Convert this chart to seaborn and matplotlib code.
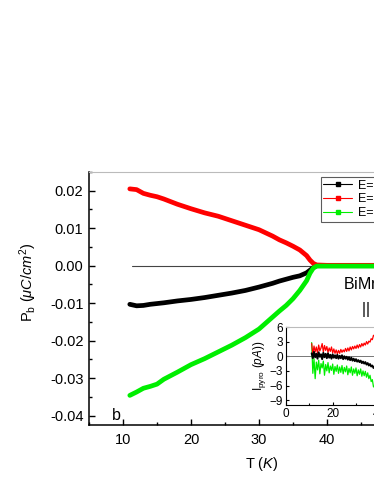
import matplotlib
matplotlib.use("Agg")
import matplotlib.pyplot as plt
from matplotlib.ticker import MultipleLocator
import seaborn as sns
import pandas as pd

# main panel: P_b vs T for three poling fields
T_main = [11, 12, 13, 14, 15, 16, 18, 20, 22, 24, 26, 28, 30, 32, 33, 34, 35, 36,
          37, 37.5, 38, 38.5, 40, 42, 44, 46, 48, 50]
P_zero = [-0.0103, -0.0107, -0.0106, -0.0103, -0.0101, -0.0099, -0.0094, -0.0090,
          -0.0085, -0.0079, -0.0073, -0.0066, -0.0057, -0.0047, -0.0041, -0.0036,
          -0.0031, -0.0027, -0.0019, -0.0012, -0.0005, 0.0, 0.0, 0.0, 0.0, 0.0, 0.0, 0.0]
P_plus = [0.0205, 0.0203, 0.0193, 0.0188, 0.0184, 0.0178, 0.0164, 0.0152, 0.0141,
          0.0132, 0.0120, 0.0108, 0.0096, 0.0079, 0.0069, 0.0061, 0.0052, 0.0042,
          0.0027, 0.0015, 0.0006, 0.0002, 0.0001, 0.0001, 0.0001, 0.0001, 0.0001, 0.0001]
P_minus = [-0.0346, -0.0337, -0.0327, -0.0322, -0.0316, -0.0303, -0.0284, -0.0264,
           -0.0248, -0.0230, -0.0212, -0.0192, -0.0169, -0.0137, -0.0121, -0.0106,
           -0.0088, -0.0066, -0.0040, -0.0020, -0.0006, -0.0001, -0.0001, -0.0001,
           -0.0001, -0.0001, -0.0001, -0.0001]
labels = ["E=0 kV/cm", "E=+2 kV/cm", "E=-2 kV/cm"]
colors = ["black", "red", "#00ee00"]

# inset: pyroelectric current
T_ins = [11, 11.5, 12, 12.5, 13, 13.5, 14, 14.5, 15, 15.5, 16, 16.5, 17, 17.5, 18,
         18.5, 19, 19.5, 20, 20.5, 21, 21.5, 22, 22.5, 23, 23.5, 24, 24.5, 25, 25.5,
         26, 26.5, 27, 27.5, 28, 28.5, 29, 29.5, 30, 30.5, 31, 31.5, 32, 32.5, 33,
         33.5, 34, 34.5, 35, 35.5, 36, 36.5, 37, 37.5, 38, 38.5, 39, 39.5, 40]
I_zero = [0.6, -0.4, 0.9, -0.2, 0.5, -0.5, 0.8, -0.1, 0.4, -0.6, 0.7, -0.2, 0.5, -0.4,
          0.6, -0.3, 0.3, -0.5, 0.4, -0.3, 0.2, -0.4, 0.3, -0.5, 0.1, -0.4, 0.2, -0.6,
          0.0, -0.5, -0.1, -0.7, -0.2, -0.8, -0.3, -0.9, -0.5, -1.0, -0.6, -1.1, -0.8,
          -1.2, -0.9, -1.4, -1.1, -1.5, -1.2, -1.7, -1.4, -1.9, -1.6, -2.1, -1.9, -2.4,
          -2.3, -2.8, -2.7, -3.2, -3.1]
I_plus = [2.6, 0.4, 2.1, 0.9, 1.9, 0.6, 2.3, 1.1, 1.7, 2.6, 0.9, 2.2, 1.2, 2.0, 0.8,
          1.7, 1.0, 1.9, 0.7, 1.5, 0.6, 1.3, 0.5, 1.2, 0.6, 1.4, 0.8, 1.3, 0.9, 1.6,
          1.0, 1.7, 1.1, 1.9, 1.3, 2.0, 1.5, 2.1, 1.6, 2.3, 1.7, 2.4, 1.9, 2.6, 2.1,
          2.7, 2.3, 3.0, 2.5, 3.1, 2.9, 3.6, 3.4, 4.3, 4.1, 5.0, 4.8, 5.6, 5.4]
I_minus = [2.8, -3.5, -0.5, -4.6, -1.2, -2.8, -0.8, -3.6, -1.5, -2.4, -1.0, -3.9, -1.7,
           -3.0, -1.3, -3.4, -2.0, -2.9, -1.6, -3.7, -2.1, -3.1, -1.8, -3.5, -2.2, -3.3,
           -1.9, -3.6, -2.3, -3.2, -2.0, -3.8, -2.5, -3.4, -2.2, -3.9, -2.6, -3.5, -2.4,
           -4.0, -2.8, -3.7, -2.6, -4.1, -3.0, -4.0, -3.1, -4.3, -3.4, -4.6, -3.9, -5.2,
           -4.8, -6.3, -6.0, -7.4, -7.2, -8.3, -8.0]

sns.set_style("ticks")
plt.rcParams["font.family"] = ["Liberation Sans", "DejaVu Sans"]
plt.rcParams["mathtext.fontset"] = "custom"
plt.rcParams["mathtext.rm"] = "Liberation Sans"
plt.rcParams["mathtext.it"] = "Liberation Sans:italic"
plt.rcParams["xtick.direction"] = "in"
plt.rcParams["ytick.direction"] = "in"
for key in ["text.color", "axes.labelcolor", "xtick.color", "ytick.color", "axes.edgecolor"]:
    plt.rcParams[key] = "black"

pal = dict(zip(labels, colors))

df = pd.DataFrame({
    "T": T_main * 3,
    "P": P_zero + P_plus + P_minus,
    "E": [labels[0]] * len(T_main) + [labels[1]] * len(T_main) + [labels[2]] * len(T_main),
})
dfi = pd.DataFrame({
    "T": T_ins * 3,
    "I": I_zero + I_plus + I_minus,
    "E": [labels[0]] * len(T_ins) + [labels[1]] * len(T_ins) + [labels[2]] * len(T_ins),
})

fig = plt.figure(figsize=(3.74, 4.84), dpi=100)
ax = fig.add_axes([89 / 374, 59 / 484, 374 / 374, 253 / 484])

ax.axhline(0, xmin=(11.3 - 5) / 55, xmax=1, color="#444444", lw=0.8, zorder=1)
sns.lineplot(data=df, x="T", y="P", hue="E", palette=pal, hue_order=labels,
             lw=3.4, ax=ax, legend=False, zorder=3)
ax.set_xlim(5, 60)
ax.set_ylim(-0.0425, 0.025)
ax.xaxis.set_major_locator(MultipleLocator(10))
ax.xaxis.set_minor_locator(MultipleLocator(5))
ax.yaxis.set_major_locator(MultipleLocator(0.01))
ax.yaxis.set_minor_locator(MultipleLocator(0.005))
ax.yaxis.set_major_formatter(matplotlib.ticker.FormatStrFormatter("%.2f"))
ax.tick_params(which="major", length=4, width=1, labelsize=10.5, pad=4)
ax.tick_params(axis="x", which="major", pad=6)
ax.tick_params(which="minor", length=2.5, width=1)
ax.set_xlabel("")
ax.set_ylabel("")
ax.spines["top"].set_color("#bbbbbb")
ax.spines["left"].set_linewidth(1.1)
ax.spines["bottom"].set_linewidth(1.1)

# legend handles
handles = [plt.Line2D([], [], color=c, lw=0.8, marker="s", markersize=3) for c in colors]
leg = ax.legend(handles, labels, loc="upper left", bbox_to_anchor=(0.62, 0.98),
                borderaxespad=0, frameon=True, fancybox=False, fontsize=9,
                handlelength=2.3, handletextpad=0.5, labelspacing=0.15, borderpad=0.2)
leg.get_frame().set_edgecolor("#333333")
leg.get_frame().set_linewidth(0.8)

ax.text(8.4, -0.0412, "b", fontsize=11.5)
ax.text(42.3, -0.0064, "BiMn$_2$O$_5$", fontsize=11.5)
ax.text(45.2, -0.0130, "|| b", fontsize=11.5)

fig.text(28 / 374, 1 - 282 / 484, r"P$_\mathrm{b}$ $(\mu C/cm^2)$", rotation=90,
         ha="center", va="center", fontsize=10.5)
fig.text(262 / 374, 1 - 464 / 484, r"T $(K)$", ha="center", va="center", fontsize=10.5)

# inset
axi = fig.add_axes([286 / 374, 79 / 484, 140 / 374, 78 / 484])
axi.axhline(0, color="#777777", lw=0.7, zorder=1)
sns.lineplot(data=dfi, x="T", y="I", hue="E", palette=pal,
             hue_order=[labels[2], labels[1], labels[0]],
             lw=0.9, ax=axi, legend=False, zorder=3)
axi.lines[-1].set_linewidth(1.4)
axi.set_xlim(0, 60)
axi.set_ylim(-10, 6)
axi.yaxis.set_major_locator(MultipleLocator(3))
axi.xaxis.set_major_locator(MultipleLocator(20))
axi.xaxis.set_minor_locator(MultipleLocator(10))
axi.tick_params(which="major", length=2.5, width=0.8, labelsize=8.5, pad=2)
axi.tick_params(which="minor", length=1.5, width=0.8)
axi.set_xlabel("")
axi.set_ylabel(r"I$_\mathrm{pyro}$ $(pA))$", fontsize=8.5, labelpad=1)
axi.spines["top"].set_color("#bbbbbb")

fig.savefig("out.png", dpi=100)
